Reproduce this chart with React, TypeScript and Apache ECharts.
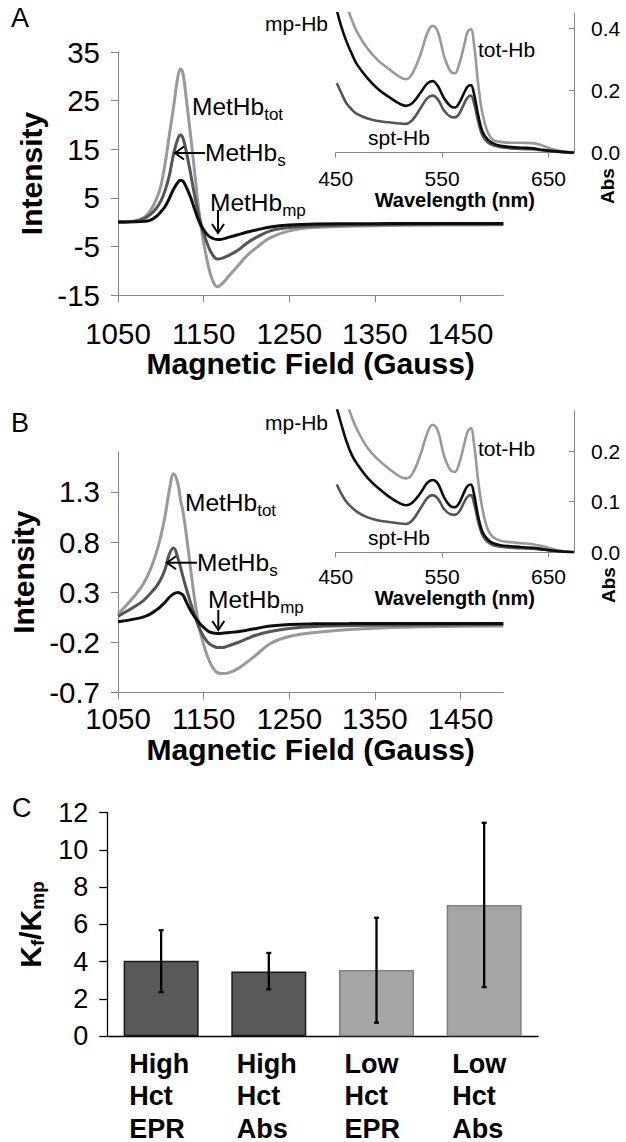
import React, { useEffect, useRef } from "react";
import * as echarts from "echarts";

const FF = '"Liberation Sans", Arial, Helvetica, sans-serif';

// ---------- Panel A & B : EPR spectra ----------
const fieldGauss = [1050, 1070, 1080, 1088, 1095, 1100, 1105, 1110, 1115, 1120, 1123, 1126, 1130, 1135, 1140, 1145, 1150, 1155, 1160, 1166, 1172, 1180, 1190, 1200, 1212, 1228, 1250, 1280, 1320, 1370, 1430, 1500];

const eprA_tot = [0, 0.25, 0.9, 2.4, 4.8, 7.4, 12, 18, 23.8, 30, 31.5, 30.5, 25, 17.5, 9.5, 1.5, -4.2, -8.6, -11.8, -13.3, -12.6, -11, -9, -7, -5.2, -3.2, -1.8, -1.1, -0.85, -0.7, -0.6, -0.55];
const eprA_s = [0, 0.2, 0.7, 1.6, 2.9, 4.3, 6.5, 9.6, 14.1, 17.2, 17.9, 17.2, 14.3, 9.8, 5, 1, -2.2, -4.8, -6.6, -7.6, -7.4, -6.8, -5.8, -4.4, -3.1, -1.8, -1.1, -0.8, -0.6, -0.5, -0.45, -0.45];
const eprA_mp = [0, 0.05, 0.15, 0.4, 1.2, 2.1, 3.2, 4.9, 6.8, 8.2, 8.6, 8.4, 7.1, 5.0, 2.4, 0, -1.6, -2.7, -3.3, -3.6, -3.5, -3.1, -2.6, -2.1, -1.6, -1.0, -0.6, -0.4, -0.35, -0.3, -0.3, -0.3];

const eprB_tot = [0.08, 0.27, 0.39, 0.53, 0.7, 0.86, 1.06, 1.32, 1.48, 1.38, 1.22, 1.1, 0.86, 0.52, 0.2, -0.05, -0.22, -0.35, -0.44, -0.5, -0.51, -0.5, -0.46, -0.4, -0.32, -0.21, -0.14, -0.1, -0.07, -0.05, -0.04, -0.037];
const eprB_s = [0.06, 0.16, 0.22, 0.29, 0.36, 0.43, 0.53, 0.68, 0.74, 0.64, 0.55, 0.45, 0.33, 0.19, 0.06, -0.06, -0.14, -0.2, -0.23, -0.25, -0.25, -0.23, -0.2, -0.165, -0.125, -0.09, -0.06, -0.04, -0.032, -0.028, -0.025, -0.022];
const eprB_mp = [0.006, 0.035, 0.055, 0.085, 0.125, 0.16, 0.2, 0.25, 0.285, 0.298, 0.29, 0.27, 0.2, 0.115, 0.05, -0.005, -0.05, -0.085, -0.103, -0.11, -0.108, -0.1, -0.092, -0.078, -0.06, -0.035, -0.02, -0.014, -0.012, -0.01, -0.01, -0.01];

const fieldTicks = [1050, 1150, 1250, 1350, 1450];
const eprATicks = [-15, -5, 5, 15, 25, 35];
const eprBTicks = [-0.7, -0.2, 0.3, 0.8, 1.3];

// ---------- Insets : absorbance ----------
const wavelengthNm = [451, 455, 460, 465, 470, 480, 490, 500, 510, 516, 522, 530, 536, 541, 546, 552, 558, 562, 566, 571, 574, 577, 580, 584, 588, 593, 598, 605, 615, 625, 635, 645, 655, 665, 674];

const absA_tot = [0.62, 0.55, 0.48, 0.43, 0.39, 0.335, 0.297, 0.27, 0.245, 0.237, 0.255, 0.32, 0.385, 0.409, 0.39, 0.31, 0.262, 0.256, 0.285, 0.35, 0.39, 0.398, 0.35, 0.22, 0.125, 0.065, 0.041, 0.035, 0.032, 0.032, 0.031, 0.022, 0.01, 0.004, 0.001];
const absA_mp = [0.46, 0.41, 0.36, 0.32, 0.285, 0.24, 0.205, 0.18, 0.158, 0.151, 0.16, 0.195, 0.223, 0.231, 0.215, 0.175, 0.15, 0.146, 0.16, 0.195, 0.213, 0.218, 0.19, 0.12, 0.068, 0.042, 0.03, 0.022, 0.018, 0.016, 0.014, 0.009, 0.005, 0.002, 0];
const absA_spt = [0.224, 0.195, 0.16, 0.14, 0.125, 0.11, 0.102, 0.098, 0.094, 0.093, 0.105, 0.145, 0.175, 0.184, 0.172, 0.135, 0.116, 0.114, 0.125, 0.16, 0.178, 0.184, 0.16, 0.1, 0.055, 0.033, 0.024, 0.018, 0.014, 0.012, 0.011, 0.007, 0.004, 0.002, 0];

const absB_tot = [0.38, 0.345, 0.3, 0.268, 0.243, 0.206, 0.183, 0.165, 0.15, 0.146, 0.155, 0.195, 0.235, 0.252, 0.24, 0.19, 0.162, 0.159, 0.175, 0.215, 0.238, 0.245, 0.215, 0.14, 0.085, 0.045, 0.03, 0.023, 0.02, 0.018, 0.016, 0.012, 0.006, 0.002, 0.001];
const absB_mp = [0.285, 0.255, 0.22, 0.193, 0.175, 0.147, 0.127, 0.11, 0.097, 0.093, 0.098, 0.118, 0.137, 0.143, 0.136, 0.108, 0.091, 0.089, 0.097, 0.12, 0.131, 0.134, 0.115, 0.07, 0.04, 0.025, 0.018, 0.014, 0.012, 0.01, 0.009, 0.006, 0.003, 0.001, 0];
const absB_spt = [0.134, 0.117, 0.1, 0.089, 0.08, 0.069, 0.063, 0.06, 0.057, 0.056, 0.063, 0.088, 0.107, 0.113, 0.106, 0.085, 0.075, 0.074, 0.08, 0.1, 0.11, 0.113, 0.097, 0.06, 0.034, 0.02, 0.014, 0.011, 0.009, 0.008, 0.007, 0.005, 0.003, 0.001, 0];

const waveTicks = [450, 550, 650];
const absATicks = [0, 0.2, 0.4];
const absBTicks = [0, 0.1, 0.2];

// ---------- Panel C : bars ----------
const barCategories = ["High Hct EPR", "High Hct Abs", "Low Hct EPR", "Low Hct Abs"];
const barValues = [4.05, 3.47, 3.55, 7.04];
const errLow = [2.37, 2.52, 0.73, 2.64];
const errHigh = [5.69, 4.47, 6.36, 11.46];

const C_TOT = "#999999";
const C_S = "#555555";
const C_MP = "#0d0d0d";
const AXIS = "#868686";

const pairs = (xs: number[], ys: number[]) => xs.map((x, i) => [x, ys[i]]);

function mainX(gridIndex: number, margin: number, nameGap: number) {
  return {
    gridIndex, type: "value", min: 1050, max: 1500,
    axisLine: { show: true, onZero: false, lineStyle: { color: AXIS, width: 1 } },
    axisTick: { show: true, customValues: fieldTicks, length: 7, lineStyle: { color: AXIS } },
    axisLabel: { customValues: fieldTicks, fontSize: 29.5, color: "#000", fontFamily: FF, margin,
      formatter: (v: number) => String(Math.round(v)) },
    splitLine: { show: false },
    name: "Magnetic Field (Gauss)", nameLocation: "middle", nameGap,
    nameTextStyle: { fontSize: 30, fontWeight: "bold", color: "#000", fontFamily: FF },
  };
}
function mainY(gridIndex: number, min: number, max: number, ticks: number[], dec: number) {
  return {
    gridIndex, type: "value", min, max,
    axisLine: { show: true, onZero: false, lineStyle: { color: AXIS, width: 1 } },
    axisTick: { show: true, customValues: ticks, length: 7, lineStyle: { color: AXIS } },
    axisLabel: { customValues: ticks, fontSize: 29.5, color: "#000", fontFamily: FF, margin: 18,
      formatter: (v: number) => v.toFixed(dec) },
    splitLine: { show: false },
    name: "Intensity", nameLocation: "middle", nameGap: 72,
    nameTextStyle: { fontSize: 30, fontWeight: "bold", color: "#000", fontFamily: FF },
  };
}
function insetX(gridIndex: number, margin: number, nameGap: number) {
  return {
    gridIndex, type: "value", min: 450, max: 674,
    axisLine: { show: true, onZero: false, lineStyle: { color: AXIS, width: 1 } },
    axisTick: { show: true, customValues: waveTicks, length: 5, lineStyle: { color: AXIS } },
    axisLabel: { customValues: waveTicks, fontSize: 21, color: "#000", fontFamily: FF, margin,
      formatter: (v: number) => String(Math.round(v)) },
    splitLine: { show: false },
    name: "Wavelength (nm)", nameLocation: "middle", nameGap,
    nameTextStyle: { fontSize: 20, fontWeight: "bold", color: "#000", fontFamily: FF },
  };
}
function insetY(gridIndex: number, max: number, ticks: number[]) {
  return {
    gridIndex, type: "value", min: 0, max, position: "right",
    axisLine: { show: true, onZero: false, lineStyle: { color: AXIS, width: 1 } },
    axisTick: { show: true, inside: true, customValues: ticks, length: 5, lineStyle: { color: AXIS } },
    axisLabel: { customValues: ticks, fontSize: 21, color: "#000", fontFamily: FF, margin: 17,
      formatter: (v: number) => v.toFixed(1) },
    splitLine: { show: false },
  };
}
function line(xi: number, xs: number[], ys: number[], color: string, width: number) {
  return {
    type: "line", xAxisIndex: xi, yAxisIndex: xi, data: pairs(xs, ys),
    showSymbol: false, symbol: "none", smooth: 0.4, clip: true,
    lineStyle: { color, width }, z: 3,
  };
}

function subLabel(x: number, y: number, main: string, sub: string) {
  return {
    type: "text", x, y, z: 50,
    style: {
      text: `{a|${main}}{b|${sub}}`, align: "left", verticalAlign: "middle",
      rich: {
        a: { fontSize: 24.5, fontFamily: FF, fill: "#000", lineHeight: 26 },
        b: { fontSize: 17, fontFamily: FF, fill: "#000", lineHeight: 17, padding: [16, 0, 0, 0] },
      },
    },
  };
}
function plainText(x: number, y: number, text: string, size: number, opts: any = {}) {
  return {
    type: "text", x, y, z: 50, rotation: opts.rotation || 0,
    style: { text, fontSize: size, fontFamily: FF, fontWeight: opts.bold ? "bold" : "normal", fill: "#000",
      align: opts.align || "left", verticalAlign: "middle" },
  };
}
function hArrow(xHead: number, xTail: number, y: number) {
  return [
    { type: "line", z: 50, shape: { x1: xHead, y1: y, x2: xTail, y2: y }, style: { stroke: "#000", lineWidth: 2 } },
    { type: "polyline", z: 50, shape: { points: [[xHead + 9, y - 6.5], [xHead, y], [xHead + 9, y + 6.5]] }, style: { stroke: "#000", lineWidth: 2, fill: null } },
  ];
}
function vArrow(x: number, yTail: number, yHead: number) {
  return [
    { type: "line", z: 50, shape: { x1: x, y1: yTail, x2: x, y2: yHead }, style: { stroke: "#000", lineWidth: 2 } },
    { type: "polyline", z: 50, shape: { points: [[x - 6, yHead - 9], [x, yHead], [x + 6, yHead - 9]] }, style: { stroke: "#000", lineWidth: 2, fill: null } },
  ];
}

export default function App() {
  const ref = useRef<HTMLDivElement>(null);
  useEffect(() => {
    document.body.style.margin = "0";
    const chart = echarts.init(ref.current!, null, { renderer: "svg" });
    const option: any = {
      animation: false,
      backgroundColor: "#fff",
      textStyle: { fontFamily: FF },
      grid: [
        { left: 118, top: 52, width: 385.3, height: 243 },
        { left: 335.7, top: 13.2, width: 238.3, height: 139.5 },
        { left: 118, top: 451.7, width: 385.3, height: 241 },
        { left: 335.7, top: 410.6, width: 238.3, height: 141.7 },
        { left: 107.3, top: 812.7, width: 430.7, height: 229.6 },
      ],
      xAxis: [
        mainX(0, 23, 52),
        insetX(1, 15, 35),
        mainX(2, 11, 30),
        insetX(3, 14, 32),
        {
          gridIndex: 4, type: "category", data: barCategories,
          axisLine: { show: true, lineStyle: { color: "#000", width: 1.3 } },
          axisTick: { show: false },
          axisLabel: {
            interval: 0, margin: 11,
            formatter: (v: string) => v.split(" ").map((w) => `{a|${w}}`).join("\n"),
            rich: { a: { fontSize: 27, fontWeight: "bold", fontFamily: FF, color: "#000", lineHeight: 32.5, width: 64, align: "left" } },
          },
        },
      ],
      yAxis: [
        mainY(0, -15, 35, eprATicks, 0),
        insetY(1, 0.45, absATicks),
        mainY(2, -0.7, 1.7, eprBTicks, 1),
        insetY(3, 0.28, absBTicks),
        {
          gridIndex: 4, type: "value", min: 0, max: 12, interval: 2,
          axisLine: { show: true, lineStyle: { color: "#000", width: 1.3 } },
          axisTick: { show: true, length: 8, lineStyle: { color: "#000", width: 1.3 } },
          axisLabel: { fontSize: 27, color: "#000", fontFamily: FF, margin: 19 },
          splitLine: { show: false },
          name: "{a|K}{b|f}{a|/K}{b|mp}", nameLocation: "middle", nameGap: 57,
          nameTextStyle: {
            rich: {
              a: { fontSize: 30, fontWeight: "bold", fontFamily: FF, color: "#000", lineHeight: 32 },
              b: { fontSize: 19, fontWeight: "bold", fontFamily: FF, color: "#000", lineHeight: 19, padding: [14, 0, 0, 0] },
            },
          },
        },
      ],
      series: [
        line(0, fieldGauss, eprA_tot, C_TOT, 3),
        line(0, fieldGauss, eprA_s, C_S, 3),
        line(0, fieldGauss, eprA_mp, C_MP, 3),
        line(1, wavelengthNm, absA_tot, C_TOT, 2.6),
        line(1, wavelengthNm, absA_spt, C_S, 2.6),
        line(1, wavelengthNm, absA_mp, C_MP, 2.6),
        line(2, fieldGauss, eprB_tot, C_TOT, 3),
        line(2, fieldGauss, eprB_s, C_S, 3),
        line(2, fieldGauss, eprB_mp, C_MP, 3),
        line(3, wavelengthNm, absB_tot, C_TOT, 2.6),
        line(3, wavelengthNm, absB_spt, C_S, 2.6),
        line(3, wavelengthNm, absB_mp, C_MP, 2.6),
        {
          type: "bar", xAxisIndex: 4, yAxisIndex: 4, barWidth: 75,
          data: barValues.map((v, i) => ({
            value: v,
            itemStyle: i < 2
              ? { color: "#595959", borderColor: "#1a1a1a", borderWidth: 1.5 }
              : { color: "#a6a6a6", borderColor: "#808080", borderWidth: 1.5 },
          })),
        },
        {
          type: "custom", xAxisIndex: 4, yAxisIndex: 4, z: 5,
          data: barCategories.map((_, i) => [i, errLow[i], errHigh[i]]),
          encode: { x: 0, y: [1, 2] },
          renderItem: (params: any, api: any) => {
            const i = api.value(0);
            const lo = api.coord([i, api.value(1)]);
            const hi = api.coord([i, api.value(2)]);
            const cap = 2.5;
            const st = { stroke: "#000", lineWidth: 2.3 };
            return {
              type: "group",
              children: [
                { type: "line", shape: { x1: lo[0], y1: lo[1], x2: hi[0], y2: hi[1] }, style: st },
                { type: "line", shape: { x1: lo[0] - cap, y1: lo[1], x2: lo[0] + cap, y2: lo[1] }, style: st },
                { type: "line", shape: { x1: hi[0] - cap, y1: hi[1], x2: hi[0] + cap, y2: hi[1] }, style: st },
              ],
            };
          },
        },
      ],
      graphic: [
        plainText(11, 18, "A", 27),
        plainText(11, 423, "B", 27),
        plainText(12, 808, "C", 27),
        // Panel A annotations
        subLabel(192, 106, "MetHb", "tot"),
        subLabel(205, 152.5, "MetHb", "s"),
        subLabel(210, 202, "MetHb", "mp"),
        ...hArrow(175, 205, 153),
        ...vArrow(218, 210, 233),
        plainText(265, 23, "mp-Hb", 21),
        plainText(478, 49, "tot-Hb", 21),
        plainText(368, 137, "spt-Hb", 21),
        plainText(607, 186, "Abs", 19, { bold: true, align: "center", rotation: Math.PI / 2 }),
        // Panel B annotations
        subLabel(185, 502.5, "MetHb", "tot"),
        subLabel(197, 562, "MetHb", "s"),
        subLabel(208, 599, "MetHb", "mp"),
        ...hArrow(167, 197, 562.7),
        ...vArrow(218.3, 610, 630),
        plainText(265, 422, "mp-Hb", 21),
        plainText(478, 448, "tot-Hb", 21),
        plainText(368, 537, "spt-Hb", 21),
        plainText(608, 585, "Abs", 19, { bold: true, align: "center", rotation: Math.PI / 2 }),
      ],
    };
    chart.setOption(option);
    return () => chart.dispose();
  }, []);
  return <div ref={ref} style={{ width: 626, height: 1142 }} />;
}
